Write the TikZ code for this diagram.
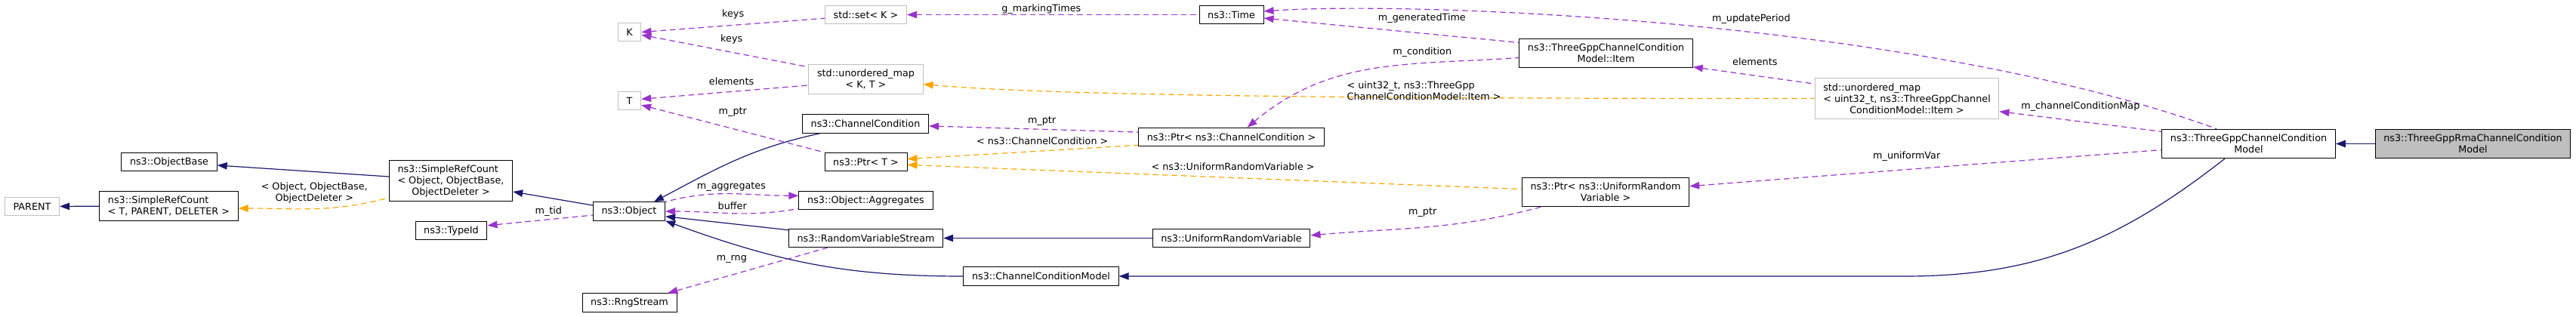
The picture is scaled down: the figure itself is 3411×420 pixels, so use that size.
\documentclass[tikz,border=0pt]{standalone}
\usepackage{fontspec}
\setmainfont{DejaVu Sans}
\usetikzlibrary{arrows.meta}
\definecolor{inhblue}{HTML}{191970}
\definecolor{usepurple}{HTML}{9A32CD}
\definecolor{tmplorange}{HTML}{FFA500}
\definecolor{extgray}{HTML}{BFBFBF}
\newcommand{\lastline}[1]{\hspace*{\fill}#1\hspace*{\fill}}
\tikzset{
  cls/.style={draw=black, fill=white, line width=1pt, inner xsep=11.2pt, inner ysep=3pt,
    minimum height=24.3pt, align=left},
  ext/.style={cls, draw=extgray},
  cur/.style={cls, fill=extgray},
  two/.style={minimum height=38.5pt},
  three/.style={minimum height=53.5pt},
  lbl/.style={inner sep=0pt, fill=none, draw=none, solid, align=left},
  tip/.style={{Triangle[length=13pt,width=9.5pt]}-},
  inh/.style={draw=inhblue, line width=1.2pt, tip},
  uses/.style={draw=usepurple, line width=1.2pt, dash pattern=on 7.5pt off 5pt, tip},
  tmpl/.style={draw=tmplorange, line width=1.2pt, dash pattern=on 7.5pt off 5pt, tip},
}
\begin{document}
\begin{tikzpicture}[x=1pt, y=-1pt, font=\fontsize{12.75}{15}\selectfont]
  \useasboundingbox (0,0) rectangle (3411,420);
  \pgfmathsetmacro{\colD}{833.5}
  \pgfmathsetmacro{\colE}{1146.5}
  \pgfmathsetmacro{\colF}{1630.5}
  \pgfmathsetmacro{\colG}{2126.5}
  % classes
  \node[ext] (parent) at (42.5,273.5) {PARENT};
  \node[cls,two] (srcT) at (223.5,273) {ns3::SimpleRefCount\\< T, PARENT, DELETER >};
  \node[cls] (objbase) at (224,214.5) {ns3::ObjectBase};
  \node[cls,three] (srcobj) at (597,239.5) {ns3::SimpleRefCount\\< Object, ObjectBase,\\\lastline{ObjectDeleter >}};
  \node[cls] (typeid) at (597.5,305.5) {ns3::TypeId};
  \node[ext] (keyK) at (\colD,42.5) {K};
  \node[ext] (valT) at (\colD,133.5) {T};
  \node[cls] (object) at (833,280) {ns3::Object};
  \node[cls] (rng) at (\colD,401) {ns3::RngStream};
  \node[ext] (setK) at (\colE,19.5) {std::set< K >};
  \node[ext,two] (mapKT) at (\colE,105) {std::unordered\_map\\\lastline{< K, T >}};
  \node[cls] (chancond) at (1146,164) {ns3::ChannelCondition};
  \node[cls] (ptrT) at (\colE,214.5) {ns3::Ptr< T >};
  \node[cls] (aggr) at (\colE,265.5) {ns3::Object::Aggregates};
  \node[cls] (rvs) at (\colE,315.5) {ns3::RandomVariableStream};
  \node[cls] (ccm) at (1378.5,366) {ns3::ChannelConditionModel};
  \node[cls] (time) at (\colF,19.5) {ns3::Time};
  \node[cls] (ptrcc) at (\colF,181.5) {ns3::Ptr< ns3::ChannelCondition >};
  \node[cls] (urv) at (\colF,315.5) {ns3::UniformRandomVariable};
  \node[cls,two] (item) at (\colG,70.5) {ns3::ThreeGppChannelCondition\\\lastline{Model::Item}};
  \node[cls,two] (ptrurv) at (2126,254.5) {ns3::Ptr< ns3::UniformRandom\\\lastline{Variable >}};
  \node[ext,three] (condmap) at (2525,130.5) {std::unordered\_map\\< uint32\_t, ns3::ThreeGppChannel\\\lastline{ConditionModel::Item >}};
  \node[cls,two] (tgccm) at (2977.5,190.5) {ns3::ThreeGppChannelCondition\\\lastline{Model}};
  \node[cur,two] (rma) at (3274.5,190.5) {ns3::ThreeGppRmaChannelCondition\\\lastline{Model}};
  % inheritance
  \draw[inh] (parent) -- (srcT);
  \draw[inh] ([yshift=-4.5pt]objbase.east) -- ([yshift=5.5pt]srcobj.west);
  \draw[inh] ([yshift=-14.5pt]srcobj.east) -- ([yshift=8pt]object.west);
  \draw[inh] (object.21) to[out=28,in=192] (chancond.192);
  \draw[inh] (object.-8) -- (rvs.174);
  \draw[inh] (object.south east) to[out=-20,in=180] (ccm.west);
  \draw[inh] (rvs) -- (urv);
  \draw[inh] (ccm.east) -- ++(1040,0) to[out=0,in=-142] (tgccm.212);
  \draw[inh] (tgccm) -- (rma);
  % template instances
  \draw[tmpl] ([yshift=-3pt]srcT.east) to[out=0,in=195]
    node[lbl, pos=.5, yshift=21pt, align=center] (lsrc) {< Object, ObjectBase,\\ObjectDeleter >}
    ([yshift=-22.5pt]srcobj.west);
  \draw[tmpl] (mapKT.-5) .. controls +(-5:200pt) and +(180:462pt) ..
    node[lbl, pos=.63, yshift=8.7pt] (lmap) {< uint32\_t, ns3::ThreeGpp\\ChannelConditionModel::Item >} (condmap.west);
  \draw[tmpl] (ptrT.4) -- node[lbl, pos=.585, yshift=13pt] (lptrcc) {< ns3::ChannelCondition >} (ptrcc.185);
  \draw[tmpl] (ptrT.-4) -- node[lbl, pos=.53, yshift=15pt] (lptrurv) {< ns3::UniformRandomVariable >} (ptrurv.178);
  % members
  \draw[uses] (keyK.east) -- node[lbl, pos=.5, yshift=14pt] (lkeysA) {keys} (setK.185);
  \draw[uses] (keyK.-13) -- node[lbl, pos=.54, yshift=17.5pt] (lkeysB) {keys} (mapKT.168);
  \draw[uses] (valT.8) -- node[lbl, pos=.54, yshift=14pt] (lelemA) {elements} (mapKT.186);
  \draw[uses] (valT.-20) -- node[lbl, pos=.5, yshift=22pt] (lptrA) {m\_ptr} (ptrT.north west);
  \draw[uses] (typeid.8) -- node[lbl, pos=.58, yshift=11pt] (ltid) {m\_tid} (object.186);
  \draw[uses] (aggr.176) to[out=180,in=15] node[lbl, pos=.5, yshift=9pt] (laggr) {m\_aggregates} (object.north east);
  \draw[uses] (object.east) to[out=0,in=190] node[lbl, pos=.5, yshift=9.5pt] (lbuf) {buffer} (aggr.187);
  \draw[uses] (rng.14) -- node[lbl, pos=.4, yshift=21pt] (lrng) {m\_rng} (rvs.194);
  \draw[uses] (setK.east) -- node[lbl, pos=.46, yshift=7.5pt] (lmark) {g\_markingTimes} (time.west);
  \draw[uses] (chancond.-2) -- node[lbl, pos=.54, yshift=11pt] (lptrB) {m\_ptr} (ptrcc.177);
  \draw[uses] (urv.2) to[out=5,in=195] node[lbl, pos=.48, yshift=20pt] (lptrC) {m\_ptr} (ptrurv.193);
  \draw[uses] (ptrcc.31) to[out=40,in=184] node[lbl, pos=.68, yshift=15pt] (lcond) {m\_condition} (item.183);
  \draw[uses] (time.-6) -- node[lbl, pos=.62, yshift=19.5pt] (lgen) {m\_generatedTime} (item.173);
  \draw[uses] (time.6) .. controls +(4:200pt) and +(160:420pt) ..
    node[lbl, pos=.56, yshift=18pt] (lupd) {m\_updatePeriod} (tgccm.155);
  \draw[uses] (item.-9) -- node[lbl, pos=.51, yshift=18pt] (lelemB) {elements} (condmap.171);
  \draw[uses] (condmap.-8) -- node[lbl, pos=.5, yshift=20pt] (lcmap) {m\_channelConditionMap} (tgccm.172);
  \draw[uses] (ptrurv.4) -- node[lbl, pos=.46, yshift=17.5pt] (luni) {m\_uniformVar} (tgccm.184);
\end{tikzpicture}
\end{document}
